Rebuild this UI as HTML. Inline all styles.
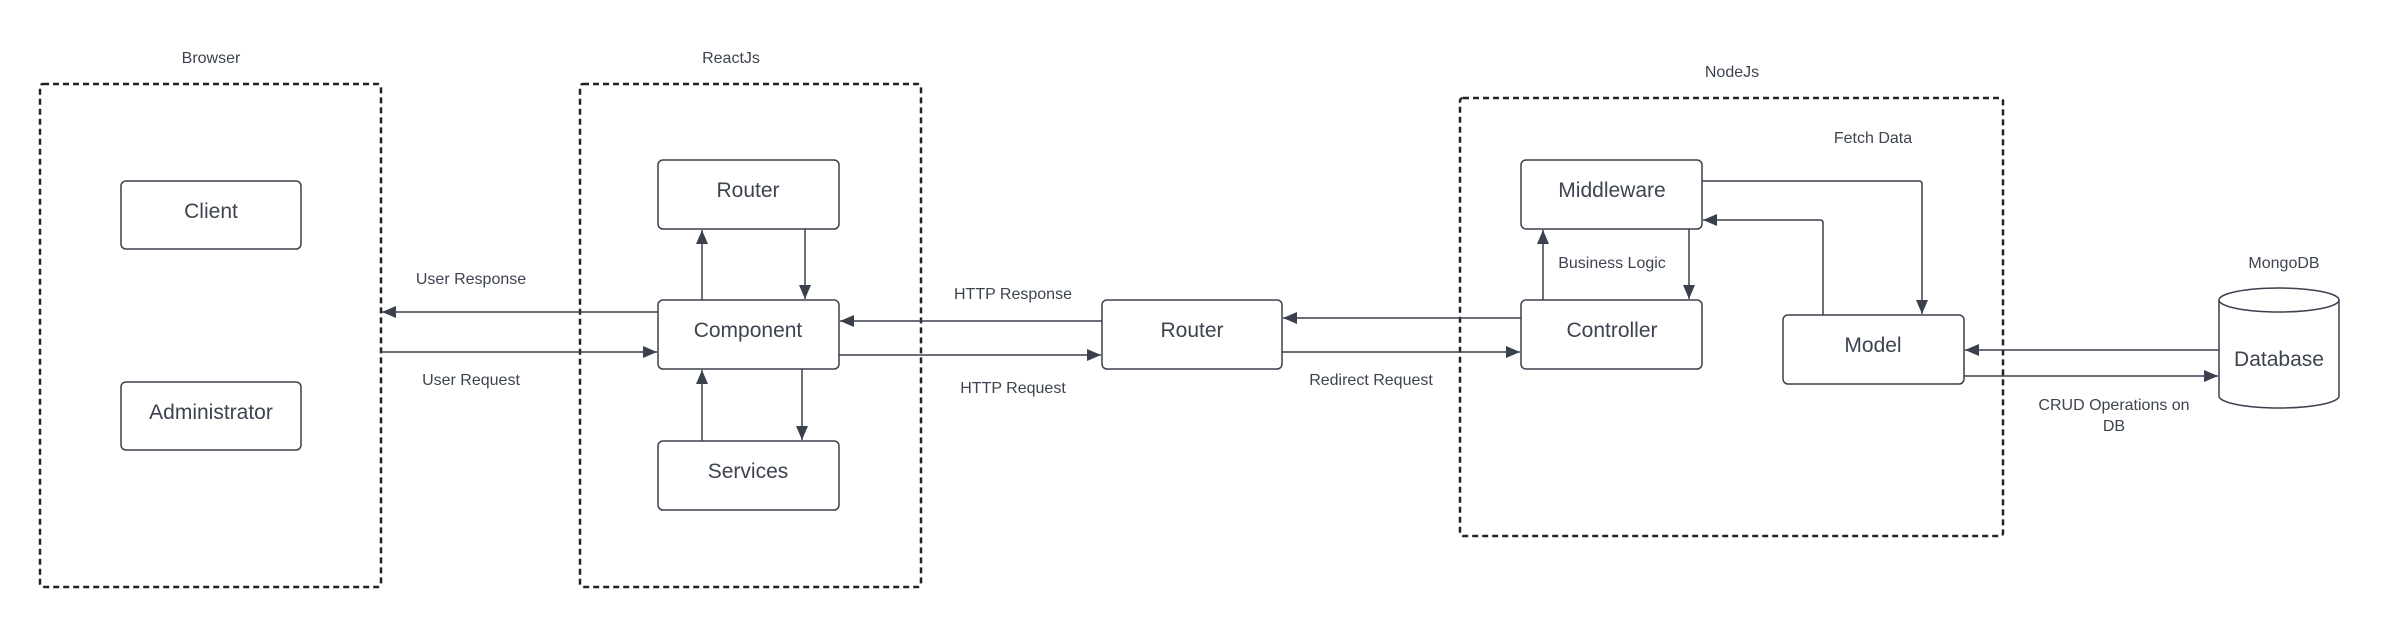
<!DOCTYPE html>
<html><head><meta charset="utf-8"><style>
html,body{margin:0;padding:0;background:#fff;}
svg{display:block;}
text{font-family:"Liberation Sans",Arial,sans-serif;fill:#3d4450;}
.b{font-size:21px;}
.l{font-size:16px;}
</style></head><body>
<svg width="2389" height="624" viewBox="0 0 2389 624" xmlns="http://www.w3.org/2000/svg">
<defs>
<marker id="a" markerWidth="14" markerHeight="12" refX="14" refY="6" orient="auto" markerUnits="userSpaceOnUse">
<path d="M0,0 L14,6 L0,12 Z" fill="#3a414c"/>
</marker>
</defs>
<g fill="none" stroke="#222" stroke-width="2.5" stroke-dasharray="6,4">
<rect x="40" y="84" width="341" height="503" rx="3"/>
<rect x="580" y="84" width="341" height="503" rx="3"/>
<rect x="1460" y="98" width="543" height="438" rx="3"/>
</g>
<g fill="#fff" stroke="#3a414c" stroke-width="1.5">
<rect x="121" y="181" width="180" height="68" rx="5"/>
<rect x="121" y="382" width="180" height="68" rx="5"/>
<rect x="658" y="160" width="181" height="69" rx="5"/>
<rect x="658" y="300" width="181" height="69" rx="5"/>
<rect x="658" y="441" width="181" height="69" rx="5"/>
<rect x="1102" y="300" width="180" height="69" rx="5"/>
<rect x="1521" y="160" width="181" height="69" rx="5"/>
<rect x="1521" y="300" width="181" height="69" rx="5"/>
<rect x="1783" y="315" width="181" height="69" rx="5"/>
<path d="M2219,300 L2219,396 A60,12 0 0 0 2339,396 L2339,300"/>
<ellipse cx="2279" cy="300" rx="60" ry="12"/>
</g>
<g fill="none" stroke="#3a414c" stroke-width="1.5" marker-end="url(#a)">
<line x1="658" y1="312" x2="382" y2="312"/>
<line x1="381" y1="352" x2="657" y2="352"/>
<line x1="702" y1="300" x2="702" y2="230"/>
<line x1="805" y1="229" x2="805" y2="299"/>
<line x1="702" y1="441" x2="702" y2="370"/>
<line x1="802" y1="369" x2="802" y2="440"/>
<line x1="1102" y1="321" x2="840" y2="321"/>
<line x1="839" y1="355" x2="1101" y2="355"/>
<line x1="1521" y1="318" x2="1283" y2="318"/>
<line x1="1282" y1="352" x2="1520" y2="352"/>
<line x1="1543" y1="300" x2="1543" y2="230"/>
<line x1="1689" y1="229" x2="1689" y2="299"/>
<path d="M1702,181 L1919,181 Q1922,181 1922,184 L1922,314"/>
<path d="M1823,315 L1823,223 Q1823,220 1820,220 L1703,220"/>
<line x1="2219" y1="350" x2="1965" y2="350"/>
<line x1="1964" y1="376" x2="2218" y2="376"/>
</g>
<g text-anchor="middle">
<text class="l" x="211" y="63">Browser</text>
<text class="l" x="731" y="63">ReactJs</text>
<text class="l" x="1732" y="77">NodeJs</text>
<text class="l" x="2284" y="268">MongoDB</text>
<text class="b" x="211" y="218">Client</text>
<text class="b" x="211" y="419">Administrator</text>
<text class="b" x="748" y="197">Router</text>
<text class="b" x="748" y="337">Component</text>
<text class="b" x="748" y="478">Services</text>
<text class="b" x="1192" y="337">Router</text>
<text class="b" x="1612" y="197">Middleware</text>
<text class="b" x="1612" y="337">Controller</text>
<text class="b" x="1873" y="352">Model</text>
<text class="b" x="2279" y="366">Database</text>
<text class="l" x="471" y="284">User Response</text>
<text class="l" x="471" y="385">User Request</text>
<text class="l" x="1013" y="299">HTTP Response</text>
<text class="l" x="1013" y="393">HTTP Request</text>
<text class="l" x="1371" y="385">Redirect Request</text>
<text class="l" x="1612" y="268">Business Logic</text>
<text class="l" x="1873" y="143">Fetch Data</text>
<text class="l" x="2114" y="410">CRUD Operations on</text>
<text class="l" x="2114" y="431">DB</text>
</g>
</svg>
</body></html>
